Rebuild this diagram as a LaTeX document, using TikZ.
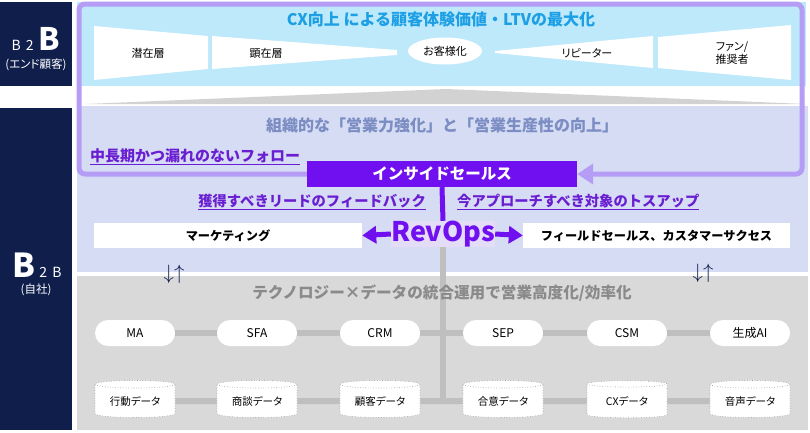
\documentclass[tikz,border=0pt]{standalone}
\usepackage{fontspec}
\setmainfont{Noto Sans CJK JP}
\newfontfamily\propjp{Noto Sans CJK JP}[RawFeature=+palt]
\usetikzlibrary{positioning,shapes.geometric,arrows.meta}

\definecolor{navy}{HTML}{0F1E4B}
\definecolor{cxbg}{HTML}{BDE9FB}
\definecolor{lavbg}{HTML}{D6DCF4}
\definecolor{graybg}{HTML}{D9D9D9}
\definecolor{lensgray}{HTML}{D2D2D2}
\definecolor{framec}{HTML}{B59CF4}
\definecolor{ispurple}{HTML}{7010F0}
\definecolor{cxtext}{HTML}{1C9FE4}
\definecolor{orgtext}{HTML}{7B8DC2}
\definecolor{techtext}{HTML}{8A8A8A}
\definecolor{linkgray}{HTML}{BFBFBF}
\definecolor{ultext}{HTML}{6A1ED2}
\definecolor{revbg}{HTML}{E4DDF8}

\newcommand{\fs}[1]{\fontsize{#1}{#1}\selectfont}

\tikzset{
  pill/.style={fill=white, rounded corners=13pt, minimum width=80pt,
    minimum height=26pt, inner sep=0pt, font=\fs{12}},
  datacyl/.style={cylinder, shape border rotate=90, aspect=0.15,
    draw=gray!80, dotted, line width=0.6pt, fill=white,
    minimum width=80pt, minimum height=37pt, inner sep=0pt,
    font=\propjp\fs{10.5}},
  bar/.style={fill=white, minimum height=25pt, inner sep=0pt,
    font=\fs{12.2}\bfseries},
  link/.style={linkgray, line width=6pt},
  funnel/.style={fill=white},
  stage/.style={font=\propjp\fs{11}},
  ullabel/.style={text=ultext, font=\fs{14.3}\bfseries, inner sep=0pt},
  revarrow/.style={ispurple, line width=5pt,
    -{Triangle[length=14pt,width=17pt]}},
  sync/.style={text=navy, font=\fs{21}, inner sep=0pt},
}

\begin{document}
\begin{tikzpicture}[x=1pt,y=-1pt]
  \useasboundingbox (0,0) rectangle (810,432);

  % side labels
  \fill[navy] (0,2) rectangle (72,86);
  \fill[navy] (0,108) rectangle (72,430);
  \node[text=white, anchor=base, inner sep=0pt] (endb) at (36,50)
    {\fs{14}B\hspace{5pt}2\hspace{5pt}{\fs{31}\bfseries B}};
  \node[text=white, font=\propjp\fs{11.5}, inner sep=0pt] (endlbl) at (36,65) {(エンド顧客)};
  \node[text=white, anchor=base, inner sep=0pt] (ownb) at (37,277)
    {{\fs{33}\bfseries B}\hspace{4pt}\fs{14}2\hspace{5pt}B};
  \node[text=white, font=\propjp\fs{11.5}, inner sep=0pt] (ownlbl) at (36,290) {(自社)};

  % bands
  \fill[cxbg] (77,2) rectangle (806,86);
  \fill[lavbg] (77,106) rectangle (808,272);
  \fill[graybg] (77,276) rectangle (808,430);
  \fill[lensgray] (85,104) -- (446,89) -- (806,104) -- cycle;

  % customer journey
  \node[text=cxtext, font=\fs{16}\bfseries] (cxtitle) at (441,19)
    {CX向上 による顧客体験価値・LTVの最大化};
  \fill[funnel] (94,26) -- (208,36) -- (208,69) -- (94,80) -- cycle;
  \fill[funnel] (212,36) -- (397,50) -- (397,55) -- (212,69) -- cycle;
  \fill[funnel] (495,51) -- (653,36) -- (653,68) -- (495,53) -- cycle;
  \fill[funnel] (658,37) -- (791,25) -- (791,80) -- (658,68) -- cycle;
  \node[stage] (latent) at (148,53) {潜在層};
  \node[stage] (overt) at (266,53) {顕在層};
  \node[stage, ellipse, fill=white, minimum width=74pt, minimum height=27pt,
    inner sep=0pt] (convert) at (445,51) {お客様化};
  \node[stage] (repeat) at (587,53) {リピーター};
  \node[stage, align=center] (fans) at (732,53) {ファン/\\推奨者};

  % organisation
  \node[text=orgtext, font=\fs{16}\bfseries] (orgtitle) at (442,125)
    {組織的な「営業力強化」と「営業生産性の向上」};
  \node[fill=ispurple, text=white, font=\fs{15.5}\bfseries,
    minimum width=270pt, minimum height=26pt, inner sep=0pt] (isales)
    at (442,174) {インサイドセールス};
  \coordinate (ftl) at (79,4);
  \coordinate (ftr) at (802,4);
  \draw[framec, line width=5pt, rounded corners=6pt,
    -{Triangle[length=16pt,width=20pt]}]
    (isales.west) -- (isales.west -| ftl) -- (ftl) -- (ftr)
    -- (isales.east -| ftr) -- (isales.east);
  \node[ullabel, font=\fs{15}\bfseries, anchor=west] (follow) at (90,157)
    {\underline{中長期かつ漏れのないフォロー}};
  \node[ullabel, anchor=east] (feedback) at (426,202)
    {\underline{獲得すべきリードのフィードバック}};
  \node[ullabel, anchor=west] (tossup) at (457,202)
    {\underline{今アプローチすべき対象のトスアップ}};

  \node[bar, minimum width=268pt] (mkt) at (228,235.5) {マーケティング};
  \node[bar, minimum width=267pt] (field) at (656.5,235.5)
    {フィールドセールス、カスタマーサクセス};
  \node[fill=revbg, text=ispurple, font=\fs{27}\bfseries,
    minimum width=104pt, minimum height=22pt, inner sep=0pt] (revops)
    at (443,234) {RevOps};
  \draw[ispurple, line width=5pt] (isales.south) -- (revops.north);
  \draw[revarrow] (revops.west) -- (mkt.east);
  \draw[revarrow] (revops.east) -- (field.west);

  \node[sync] (syncl) at (174,274) {$\downarrow\uparrow$};
  \node[sync] (syncr) at (703,273) {$\downarrow\uparrow$};

  % technology x data
  \coordinate (hub) at (443,401);
  \draw[link] (revops.south) -- (hub);
  \node[text=techtext, font=\fs{15.6}\bfseries] (techtitle) at (442,293)
    {テクノロジー×データの統合運用で営業高度化/効率化};

  \node[pill] (ma) at (135,333) {MA};
  \node[pill] (sfa) at (257,333) {SFA};
  \node[pill] (crm) at (380,333) {CRM};
  \node[pill] (sep) at (503,333) {SEP};
  \node[pill] (csm) at (627,333) {CSM};
  \node[pill] (genai) at (750,333) {生成AI};
  \draw[link] (ma) -- (sfa);
  \draw[link] (sfa) -- (crm);
  \draw[link] (crm) -- (sep);
  \draw[link] (sep) -- (csm);
  \draw[link] (csm) -- (genai);

  \node[datacyl] (actdata) at (135,401) {行動データ};
  \node[datacyl] (dealdata) at (257,401) {商談データ};
  \node[datacyl] (custdata) at (380,401) {顧客データ};
  \node[datacyl] (agreedata) at (503,401) {合意データ};
  \node[datacyl] (cxdata) at (627,401) {CXデータ};
  \node[datacyl] (voicedata) at (750,401) {音声データ};
  \draw[link] (actdata) -- (dealdata);
  \draw[link] (dealdata) -- (custdata);
  \draw[link] (custdata) -- (agreedata);
  \draw[link] (agreedata) -- (cxdata);
  \draw[link] (cxdata) -- (voicedata);
\end{tikzpicture}
\end{document}
